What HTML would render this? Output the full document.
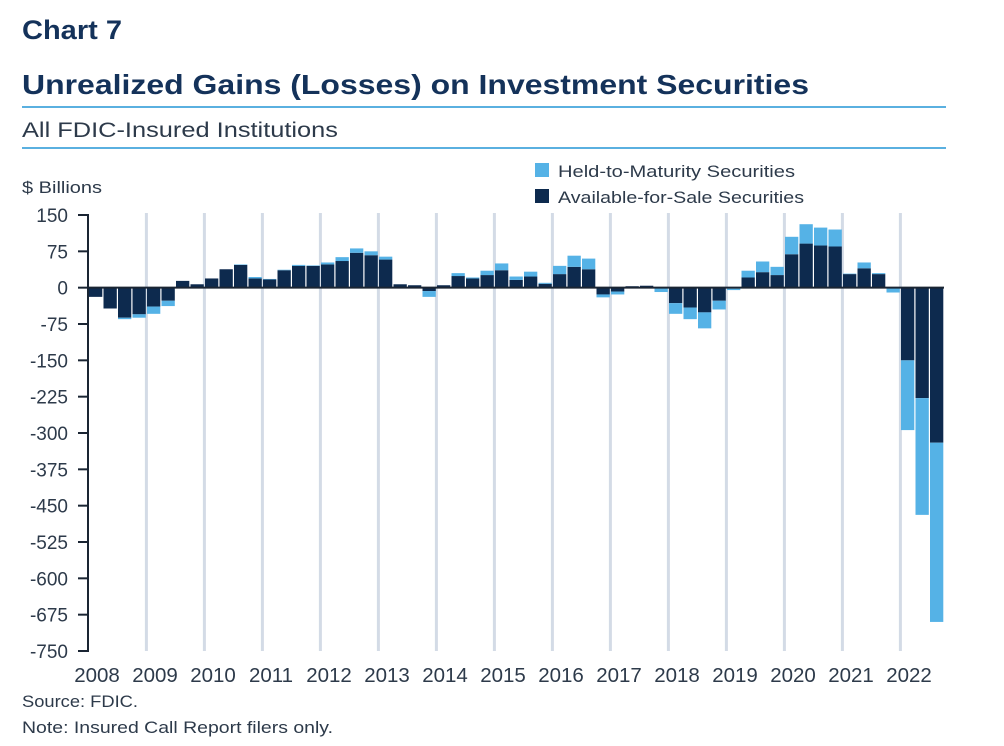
<!DOCTYPE html>
<html><head><meta charset="utf-8">
<style>
body{margin:0;background:#fff;width:1004px;height:746px;overflow:hidden;font-family:"Liberation Sans",sans-serif;}
svg{display:block}
</style></head>
<body>
<svg id="chart" width="1004" height="746" viewBox="0 0 1004 746" xmlns="http://www.w3.org/2000/svg" font-family="Liberation Sans, sans-serif">
<text x="22" y="39" font-size="27" font-weight="bold" fill="#14325a" textLength="100" lengthAdjust="spacingAndGlyphs">Chart 7</text>
<text x="22" y="94" font-size="28" font-weight="bold" fill="#14325a" textLength="787" lengthAdjust="spacingAndGlyphs">Unrealized Gains (Losses) on Investment Securities</text>
<rect x="22" y="106" width="924" height="2" fill="#5ab0e0"/>
<text x="22" y="137" font-size="21" fill="#2d3a4a" textLength="316" lengthAdjust="spacingAndGlyphs">All FDIC-Insured Institutions</text>
<rect x="22" y="147" width="924" height="2" fill="#5ab0e0"/>
<text x="22" y="193" font-size="17" fill="#2d3a4a" textLength="80" lengthAdjust="spacingAndGlyphs">$ Billions</text>
<rect x="535" y="163" width="14" height="14" fill="#55b2e6"/>
<text x="558" y="177" font-size="17" fill="#2d3a4a" textLength="237" lengthAdjust="spacingAndGlyphs">Held-to-Maturity Securities</text>
<rect x="535" y="189" width="14" height="14" fill="#0d2a4e"/>
<text x="558" y="203" font-size="17" fill="#2d3a4a" textLength="246" lengthAdjust="spacingAndGlyphs">Available-for-Sale Securities</text>
<g id="grid"></g><g id="bars"></g><g id="axes"></g>
<text x="22" y="707" font-size="17" fill="#2d3a4a" textLength="116" lengthAdjust="spacingAndGlyphs">Source: FDIC.</text>
<text x="22" y="733" font-size="17" fill="#2d3a4a" textLength="311" lengthAdjust="spacingAndGlyphs">Note: Insured Call Report filers only.</text>
</svg>
<script>
const years=[2008,2009,2010,2011,2012,2013,2014,2015,2016,2017,2018,2019,2020,2021,2022];
const yTicks=[150,75,0,-75,-150,-225,-300,-375,-450,-525,-600,-675,-750];
const afs=[-19,-43,-62,-55,-39,-27,14,7,19,38,47,19,17,36,45,45,48,55,72,67,58,7,5,-7,5,24,19,26,36,16,23,8,28,43,38,-14,-8,3,4,-1,-32,-41,-51,-27,-2,21,32,26,69,91,87,85,28,40,28,-1,-150,-228,-320];
const htm=[0,0,-3,-7,-15,-11,0,0,0,0,1,3,1,1,2,1,4,8,9,8,6,0,0,-12,0,6,2,9,14,7,10,2,17,23,22,-6,-6,0,0,-8,-22,-24,-33,-18,-3,14,22,17,36,40,37,35,1,12,2,-9,-144,-241,-370];
const NS="http://www.w3.org/2000/svg";
const x0=89,step=14.5,bw=13.3,yTop=215,yBot=651,vMax=150,vMin=-750;
function yS(v){return yTop+(vMax-v)*(yBot-yTop)/(vMax-vMin);}
function xS(i){return x0+i*step;}
function mk(tag,attrs,parent){const e=document.createElementNS(NS,tag);for(const k in attrs)e.setAttribute(k,attrs[k]);document.getElementById(parent).appendChild(e);return e;}
years.forEach((yr,j)=>{
  if(j>0){const g=mk('line',{x1:xS(j*4)-0.6,x2:xS(j*4)-0.6,y1:yTop-2,y2:yBot,stroke:'#d3dbe6','stroke-width':3},'grid');
  
  }
  const t=mk('text',{x:xS(j*4)+8,y:682,'font-size':20.5,'text-anchor':'middle',fill:'#2d3a4a'},'axes');t.textContent=yr;
  
  
});
afs.forEach((a,i)=>{
  const h=htm[i];const x=xS(i);
  const r1=mk('rect',{x:x,y:Math.min(yS(0),yS(a)),width:bw,height:Math.abs(yS(a)-yS(0)),fill:'#0d2a4e'},'bars');
  
  
  const r2=mk('rect',{x:x,y:Math.min(yS(a),yS(a+h)),width:bw,height:Math.abs(yS(a+h)-yS(a)),fill:'#55b2e6'},'bars');
  
  
});
yTicks.forEach(v=>{
  const tk=mk('line',{x1:78,x2:88,y1:yS(v),y2:yS(v),stroke:'#1a2533','stroke-width':2},'axes');
  
  
  const t=mk('text',{x:68,y:yS(v)+7,'font-size':19,'text-anchor':'end',fill:'#2d3a4a'},'axes');t.textContent=v;
  
  
});
const ax=mk('line',{x1:88,x2:88,y1:yTop-1,y2:yBot+1,stroke:'#1a2533','stroke-width':2},'axes');


const z=mk('line',{x1:88,x2:944,y1:yS(0),y2:yS(0),stroke:'#1a2533','stroke-width':2},'axes');


</script>
</body></html>
